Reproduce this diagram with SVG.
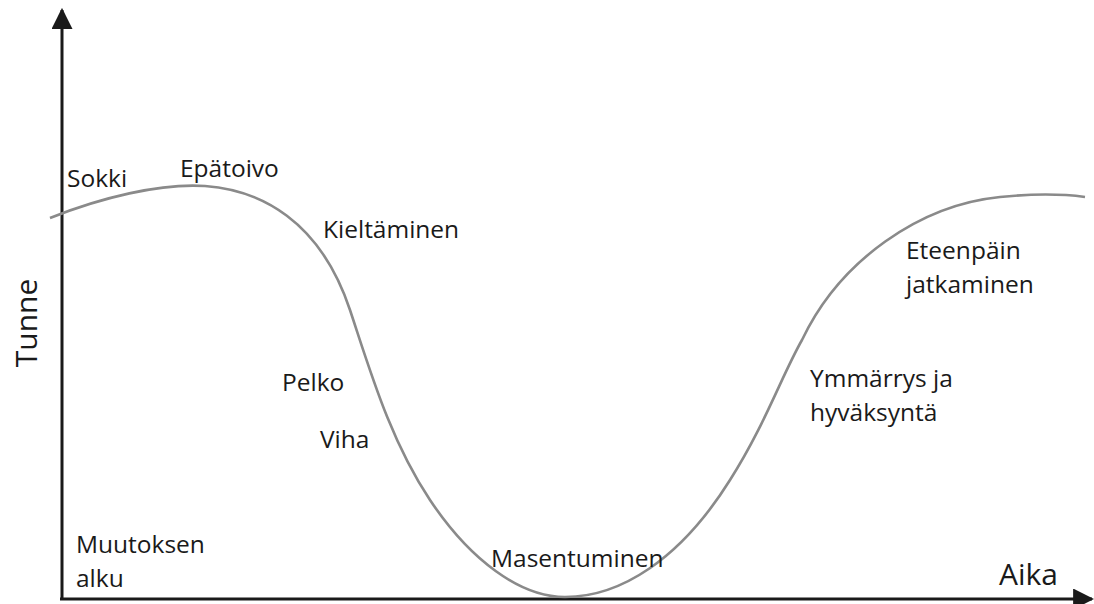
<svg xmlns="http://www.w3.org/2000/svg" width="1094" height="604" viewBox="0 0 1094 604">
  <style>
    .lbl { font-family: "Open Sans", "Noto Sans", sans-serif; font-size: 24.5px; fill: #1a1a1a; }
    .ax { font-family: "Open Sans", "Noto Sans", sans-serif; font-size: 30px; fill: #1a1a1a; }
    .axis { stroke: #1a1a1a; stroke-width: 3; fill: none; }
    .curve { stroke: #8a8a8a; stroke-width: 2.6; fill: none; }
  </style>
  <defs>
    <marker id="arrow" viewBox="0 0 10 10" refX="9" refY="5" markerWidth="7" markerHeight="7" markerUnits="strokeWidth" orient="auto">
      <path d="M0,0 L10,5 L0,10 Z" fill="#1a1a1a"/>
    </marker>
  </defs>

  <g id="connectors">
    <line class="axis" x1="62" y1="600" x2="62" y2="10" marker-end="url(#arrow)"/>
    <line class="axis" x1="60" y1="599" x2="1092" y2="599" marker-end="url(#arrow)"/>
    <path id="change-curve" class="curve" d="M50,218 C100,198 160,183 205,186 C260,190 320,220 350,310 C370,370 390,440 430,500 C470,560 520,597 565,597 C620,597 680,560 730,480 C765,425 782,375 802,340 C840,260 920,205 1000,197 C1040,193 1070,195 1085,197"/>
  </g>

  <g id="axis-labels">
    <text class="ax" transform="translate(37,323) rotate(-90)" text-anchor="middle">Tunne</text>
    <text class="ax" x="999" y="585">Aika</text>
  </g>

  <g id="sokki"><text class="lbl" x="67" y="187">Sokki</text></g>
  <g id="epatoivo"><text class="lbl" x="180" y="177">Epätoivo</text></g>
  <g id="kieltaminen"><text class="lbl" x="323" y="238">Kieltäminen</text></g>
  <g id="pelko"><text class="lbl" x="282" y="391">Pelko</text></g>
  <g id="viha"><text class="lbl" x="320" y="448">Viha</text></g>
  <g id="masentuminen"><text class="lbl" x="491" y="567">Masentuminen</text></g>
  <g id="ymmarrys">
    <text class="lbl" x="810" y="387">Ymmärrys ja</text>
    <text class="lbl" x="810" y="421">hyväksyntä</text>
  </g>
  <g id="eteenpain">
    <text class="lbl" x="906" y="259">Eteenpäin</text>
    <text class="lbl" x="906" y="293">jatkaminen</text>
  </g>
  <g id="muutoksen-alku">
    <text class="lbl" x="76" y="553">Muutoksen</text>
    <text class="lbl" x="76" y="587">alku</text>
  </g>
</svg>
